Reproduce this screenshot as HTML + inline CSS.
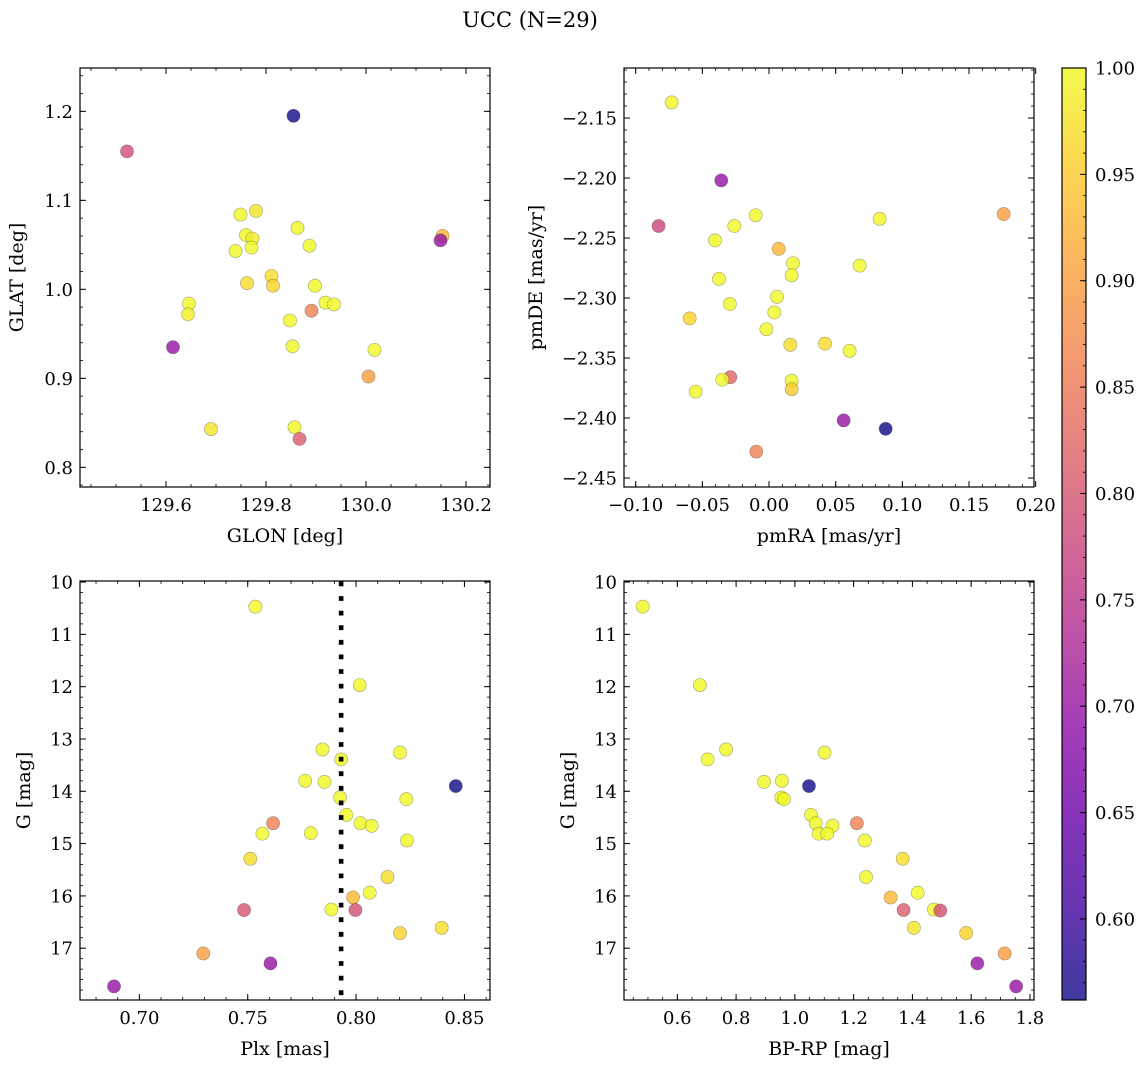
<!DOCTYPE html>
<html><head><meta charset="utf-8"><title>UCC (N=29)</title>
<style>
html,body{margin:0;padding:0;background:#fff;}
svg{display:block;font-family:"DejaVu Serif","Liberation Serif",serif;}
</style></head>
<body>
<svg id="fig" width="1148" height="1067" viewBox="0 0 1148 1067" xmlns="http://www.w3.org/2000/svg">
<defs>
<linearGradient id="plasma" x1="0" y1="1" x2="0" y2="0"></linearGradient>
</defs>
<text x="530" y="27" text-anchor="middle" font-size="21">UCC (N=29)</text>
</svg>
<script>
// ---- data ----
const p1GLON = [129.855,129.522,129.749,129.780,129.863,129.760,129.773,129.771,129.739,129.887,130.153,130.149,129.811,129.814,129.762,129.898,129.646,129.644,129.919,129.936,129.891,129.848,129.853,130.017,130.005,129.614,129.690,129.857,129.867];
const p1GLAT = [1.195,1.155,1.084,1.088,1.069,1.061,1.057,1.047,1.043,1.049,1.060,1.055,1.015,1.004,1.007,1.004,0.984,0.972,0.985,0.983,0.976,0.965,0.936,0.932,0.902,0.935,0.843,0.845,0.832];
const p1C = [0.562,0.79,1.0,0.98,1.0,1.0,0.99,1.0,1.0,1.0,0.93,0.70,0.97,0.96,0.97,1.0,1.0,0.99,1.0,1.0,0.86,1.0,1.0,1.0,0.90,0.70,0.98,1.0,0.81];

const p2pmRA = [-0.073,-0.0358,-0.0828,-0.010,-0.026,-0.0405,0.00725,0.083,0.176,0.018,0.068,0.017,-0.0375,0.006,-0.0293,0.004,-0.0595,-0.002,0.016,0.042,0.0605,-0.029,-0.035,-0.055,0.017,0.017,0.056,0.0875,-0.0095];
const p2pmDE = [-2.137,-2.202,-2.240,-2.231,-2.240,-2.252,-2.259,-2.234,-2.230,-2.271,-2.273,-2.281,-2.284,-2.299,-2.305,-2.312,-2.317,-2.326,-2.339,-2.338,-2.344,-2.366,-2.368,-2.378,-2.369,-2.376,-2.402,-2.409,-2.428];
const p2C = [1.0,0.70,0.78,1.0,1.0,1.0,0.93,1.0,0.90,1.0,1.0,1.0,1.0,1.0,1.0,1.0,0.96,1.0,0.97,0.97,1.0,0.82,1.0,1.0,1.0,0.95,0.70,0.562,0.86];

const p3Plx = [0.7535,0.8017,0.7845,0.7931,0.8203,0.7765,0.7854,0.846,0.7926,0.8232,0.7955,0.802,0.8072,0.7617,0.7568,0.7791,0.8235,0.7512,0.8145,0.8063,0.7986,0.7886,0.7997,0.7483,0.8203,0.8395,0.7295,0.7605,0.6883];
const p3G = [10.47,11.97,13.20,13.39,13.26,13.80,13.82,13.90,14.12,14.15,14.45,14.61,14.66,14.61,14.81,14.80,14.94,15.29,15.64,15.94,16.03,16.26,16.27,16.27,16.71,16.61,17.10,17.29,17.73];
const p3C = [1.0,1.0,1.0,1.0,1.0,1.0,1.0,0.562,1.0,1.0,1.0,1.0,1.0,0.86,1.0,1.0,1.0,0.97,0.97,1.0,0.93,1.0,0.79,0.80,0.96,0.97,0.90,0.70,0.70];
const p3PlxMean = [0.7931];

const p4BPRP = [0.482,0.677,0.766,0.703,1.101,0.895,0.956,1.048,0.954,0.963,1.055,1.071,1.128,1.081,1.110,1.211,1.238,1.367,1.242,1.418,1.326,1.370,1.473,1.495,1.405,1.583,1.714,1.621,1.753];
const p4G = [10.47,11.97,13.20,13.39,13.26,13.82,13.80,13.90,14.12,14.15,14.45,14.61,14.66,14.81,14.81,14.61,14.94,15.29,15.64,15.94,16.03,16.27,16.26,16.28,16.61,16.71,17.10,17.29,17.73];
const p4C = [1.0,1.0,1.0,1.0,1.0,1.0,1.0,0.562,1.0,1.0,1.0,1.0,1.0,1.0,1.0,0.86,1.0,0.97,1.0,1.0,0.93,0.81,1.0,0.79,0.98,0.96,0.90,0.70,0.70];

const p1XTicks = [129.6,129.8,130.0,130.2];
const p1YTicks = [0.8,0.9,1.0,1.1,1.2];
const p2XTicks = [-0.10,-0.05,0.00,0.05,0.10,0.15,0.20];
const p2YTicks = [-2.45,-2.40,-2.35,-2.30,-2.25,-2.20,-2.15];
const p3XTicks = [0.70,0.75,0.80,0.85];
const gYTicks = [10,11,12,13,14,15,16,17];
const p4XTicks = [0.6,0.8,1.0,1.2,1.4,1.6,1.8];
const cbTicks = [0.60,0.65,0.70,0.75,0.80,0.85,0.90,0.95,1.00];

// ---- helpers ----
const NS = "http://www.w3.org/2000/svg";
const svg = document.getElementById('fig');
const VMIN = 0.5619, VMAX = 1.0;
const TFS = 18, LFS = 19;
const plasmaStops = [[0,[13,8,135]],[0.1,[65,4,157]],[0.2,[106,0,168]],[0.3,[143,13,164]],[0.4,[177,42,144]],[0.5,[204,71,120]],[0.6,[225,100,98]],[0.7,[242,132,75]],[0.8,[252,166,54]],[0.9,[252,206,37]],[1.0,[240,249,33]]];
function plasma(t){
  t=Math.max(0,Math.min(1,t));
  for(let i=1;i<plasmaStops.length;i++){
    if(t<=plasmaStops[i][0]){
      const a=plasmaStops[i-1],b=plasmaStops[i];const f=(t-a[0])/(b[0]-a[0]);
      const c=a[1].map((v,k)=>Math.round(v+(b[1][k]-v)*f));
      return `rgb(${c[0]},${c[1]},${c[2]})`;
    }
  }
  return 'rgb(240,249,33)';
}
function mk(tag, attrs, parent){
  const e=document.createElementNS(NS,tag);
  for(const k in attrs) e.setAttribute(k,attrs[k]);
  (parent||svg).appendChild(e);
  return e;
}
function fmt(v,d){ const s=v.toFixed(d); return s.replace('-','\u2212'); }

function makeAxes(o){
  const g=mk('g',{});
  
  
  const sx=v=>o.x0+(v-o.xmin)/(o.xmax-o.xmin)*(o.x1-o.x0);
  const sy=o.yinv ? (v=>o.y0+(v-o.ymin)/(o.ymax-o.ymin)*(o.y1-o.y0))
                  : (v=>o.y1-(v-o.ymin)/(o.ymax-o.ymin)*(o.y1-o.y0));
  const eps=1e-9;
  for(let v=Math.ceil(o.xmin/o.xminor-eps)*o.xminor; v<=o.xmax+eps; v+=o.xminor){
    const x=sx(v);
    mk('line',{x1:x,x2:x,y1:o.y1,y2:o.y1-3,stroke:'#000','stroke-width':0.8},g);
    mk('line',{x1:x,x2:x,y1:o.y0,y2:o.y0+3,stroke:'#000','stroke-width':0.8},g);
  }
  const ylo=Math.min(o.ymin,o.ymax), yhi=Math.max(o.ymin,o.ymax);
  for(let v=Math.ceil(ylo/o.yminor-eps)*o.yminor; v<=yhi+eps; v+=o.yminor){
    const y=sy(v);
    mk('line',{x1:o.x0,x2:o.x0+3,y1:y,y2:y,stroke:'#000','stroke-width':0.8},g);
    mk('line',{x1:o.x1,x2:o.x1-3,y1:y,y2:y,stroke:'#000','stroke-width':0.8},g);
  }
  o.xticks.forEach(v=>{
    const x=sx(v);
    mk('line',{x1:x,x2:x,y1:o.y1,y2:o.y1-6,stroke:'#000','stroke-width':1},g);
    mk('line',{x1:x,x2:x,y1:o.y0,y2:o.y0+6,stroke:'#000','stroke-width':1},g);
    const t=mk('text',{x:x,y:o.y1+24,'text-anchor':'middle','font-size':TFS},g);
    
    
    t.textContent=fmt(v,o.xdec);
  });
  o.yticks.forEach(v=>{
    const y=sy(v);
    mk('line',{x1:o.x0,x2:o.x0+6,y1:y,y2:y,stroke:'#000','stroke-width':1},g);
    mk('line',{x1:o.x1,x2:o.x1-6,y1:y,y2:y,stroke:'#000','stroke-width':1},g);
    const t=mk('text',{x:o.x0-7,y:y+6.5,'text-anchor':'end','font-size':TFS},g);
    
    
    t.textContent=fmt(v,o.ydec);
  });
  const xl=mk('text',{x:(o.x0+o.x1)/2,y:o.y1+55,'text-anchor':'middle','font-size':LFS},g);
  
  
  xl.textContent=o.xlabel;
  const yl=mk('text',{x:0,y:0,'text-anchor':'middle','font-size':LFS,transform:`translate(${o.ylx},${(o.y0+o.y1)/2}) rotate(-90)`},g);
  
  
  yl.textContent=o.ylabel;
  return {g,sx,sy,o};
}
function scatter(ax, xs, ys, cs, name){
  const clip='clip-'+name;
  const cp=mk('clipPath',{id:clip});
  mk('rect',{x:ax.o.x0,y:ax.o.y0,width:ax.o.x1-ax.o.x0,height:ax.o.y1-ax.o.y0},cp);
  const g=mk('g',{'clip-path':`url(#${clip})`},ax.g);
  xs.forEach((xv,i)=>{
    const c=mk('circle',{cx:ax.sx(xv),cy:ax.sy(ys[i]),r:6.6,fill:plasma((cs[i]-VMIN)/(VMAX-VMIN)),'fill-opacity':0.8,stroke:'rgba(60,60,60,0.45)','stroke-width':0.6},g);
    
    
  });
  return g;
}
function frame(ax){
  const r=mk('rect',{x:ax.o.x0,y:ax.o.y0,width:ax.o.x1-ax.o.x0,height:ax.o.y1-ax.o.y0,fill:'none',stroke:'#000','stroke-width':1.2},ax.g);
  
  
}

const a1=makeAxes({name:'glon-glat-panel',x0:80,x1:490,y0:68,y1:487,xmin:129.428,xmax:130.248,ymin:0.7779,ymax:1.2487,
  xticks:p1XTicks,yticks:p1YTicks,xminor:0.05,yminor:0.02,xdec:1,ydec:1,xlabel:'GLON [deg]',ylabel:'GLAT [deg]',ylx:23});
scatter(a1,p1GLON,p1GLAT,p1C,'glon-glat'); frame(a1);

const a2=makeAxes({name:'proper-motion-panel',x0:624,x1:1034,y0:68,y1:487,xmin:-0.10875,xmax:0.19875,ymin:-2.4575,ymax:-2.1083,
  xticks:p2XTicks,yticks:p2YTicks,xminor:0.01,yminor:0.01,xdec:2,ydec:2,xlabel:'pmRA [mas/yr]',ylabel:'pmDE [mas/yr]',ylx:542});
scatter(a2,p2pmRA,p2pmDE,p2C,'pm'); frame(a2);

const a3=makeAxes({name:'plx-g-panel',x0:80,x1:490,y0:581,y1:1000,xmin:0.6726,xmax:0.8618,ymin:9.98,ymax:17.99,yinv:true,
  xticks:p3XTicks,yticks:gYTicks,xminor:0.01,yminor:0.2,xdec:2,ydec:0,xlabel:'Plx [mas]',ylabel:'G [mag]',ylx:30});
scatter(a3,p3Plx,p3G,p3C,'plx-g');
p3PlxMean.forEach(v=>{
  const l=mk('line',{x1:a3.sx(v),x2:a3.sx(v),y1:581,y2:1000,stroke:'#000','stroke-width':4.6,'stroke-dasharray':'4.8 9.8','stroke-dashoffset':'-0.5'},a3.g);
  
  
});
frame(a3);

const a4=makeAxes({name:'cmd-panel',x0:624,x1:1034,y0:581,y1:1000,xmin:0.4185,xmax:1.8138,ymin:9.98,ymax:17.99,yinv:true,
  xticks:p4XTicks,yticks:gYTicks,xminor:0.05,yminor:0.2,xdec:1,ydec:0,xlabel:'BP-RP [mag]',ylabel:'G [mag]',ylx:574});
scatter(a4,p4BPRP,p4G,p4C,'cmd'); frame(a4);

// ---- colorbar ----
const grad=document.getElementById('plasma');
plasmaStops.forEach(s=>{ mk('stop',{offset:s[0],'stop-color':`rgb(${s[1].join(',')})`},grad); });
const cb=mk('g',{});


const CBX0=1062,CBX1=1086,CBY0=68,CBY1=1000;
mk('rect',{x:CBX0,y:CBY0,width:CBX1-CBX0,height:CBY1-CBY0,fill:'url(#plasma)','fill-opacity':0.8},cb);
const cy=v=>CBY1-(v-VMIN)/(VMAX-VMIN)*(CBY1-CBY0);
for(let v=0.57; v<=1.0001; v+=0.01){
  mk('line',{x1:CBX1,x2:CBX1-3,y1:cy(v),y2:cy(v),stroke:'#000','stroke-width':0.8},cb);
}
cbTicks.forEach(v=>{
  mk('line',{x1:CBX1,x2:CBX1-6,y1:cy(v),y2:cy(v),stroke:'#000','stroke-width':1},cb);
  const t=mk('text',{x:CBX1+9,y:cy(v)+6.5,'font-size':TFS},cb);
  
  
  t.textContent=v.toFixed(2);
});
mk('rect',{x:CBX0,y:CBY0,width:CBX1-CBX0,height:CBY1-CBY0,fill:'none',stroke:'#000','stroke-width':1.2},cb);
</script>
</body></html>
